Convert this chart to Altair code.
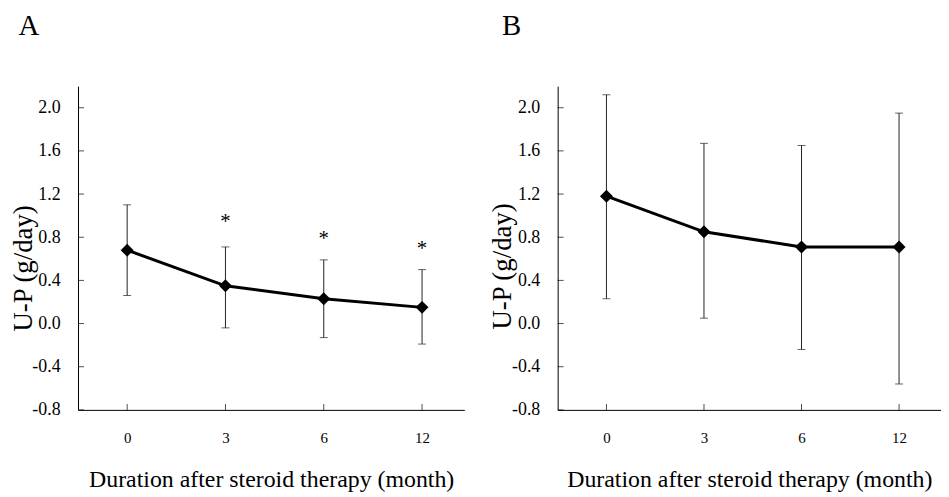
import altair as alt
import pandas as pd

# ---- data ----
months = ["0", "3", "6", "12"]
a_mean = [0.68, 0.35, 0.23, 0.15]
a_upper = [1.10, 0.71, 0.59, 0.50]
a_lower = [0.26, -0.04, -0.13, -0.19]
a_star = [None, 0.98, 0.82, 0.73]
b_mean = [1.18, 0.85, 0.71, 0.71]
b_upper = [2.12, 1.67, 1.65, 1.95]
b_lower = [0.23, 0.05, -0.24, -0.56]
b_star = [None, None, None, None]
y_ticks = [-0.8, -0.4, 0.0, 0.4, 0.8, 1.2, 1.6, 2.0]

FONT = "Liberation Serif"
H = 326
label_expr = "[" + ",".join("'%s'" % m for m in months) + "][datum.value]"
y_label_expr = "(datum.value < 0 ? '-' : '') + format(abs(datum.value), '.1f')"


def panel(letter, mean, upper, lower, star, width, title_dx, ytitle_y):
    df = pd.DataFrame({
        "idx": list(range(len(months))),
        "month": months,
        "mean": mean,
        "upper": upper,
        "lower": lower,
        "star": star,
    })
    ticks = pd.DataFrame({"v": y_ticks})

    x = alt.X(
        "idx:Q",
        scale=alt.Scale(domain=[-0.5, 3.43], nice=False, zero=False),
        axis=alt.Axis(
            values=list(range(len(months))), labelExpr=label_expr, ticks=False,
            grid=False, labelPadding=21, labelFontSize=15, labelFlush=False,
            title="Duration after steroid therapy (month)", titleFontSize=24,
            titleFontWeight="normal", titleBaseline="alphabetic", titleY=77,
        ),
    )
    y = alt.Y(
        "mean:Q",
        scale=alt.Scale(domain=[-0.8, 2.2], nice=False, zero=False),
        axis=alt.Axis(
            values=y_ticks, labelExpr=y_label_expr, ticks=False, grid=False,
            labelPadding=18, labelFontSize=18, labelFlush=False,
            title="U-P (g/day)", titleFontSize=27, titleFontWeight="normal",
            titleAngle=270, titleBaseline="alphabetic", titleAlign="center",
            titleX=-47, titleY=ytitle_y,
        ),
    )

    base = alt.Chart(df).encode(x=x)
    rule = base.mark_rule(color="#222", strokeWidth=1).encode(
        y=alt.Y("lower:Q"), y2="upper:Q")
    capu = base.mark_tick(color="#222", thickness=1, size=8,
                          orient="horizontal").encode(y="upper:Q")
    capl = base.mark_tick(color="#222", thickness=1, size=8,
                          orient="horizontal").encode(y="lower:Q")
    line = base.mark_line(color="black", strokeWidth=3).encode(y=y)
    pts = base.mark_point(shape="diamond", filled=True, size=170,
                          color="black", opacity=1).encode(y="mean:Q")
    stars = base.transform_filter("isValid(datum.star)").mark_text(
        text="*", fontSize=21, font=FONT, color="black", dy=4,
        baseline="middle").encode(y="star:Q")
    yt = alt.Chart(ticks).mark_tick(color="black", thickness=1, size=6,
                                    orient="horizontal").encode(
        y="v:Q", x=alt.value(3))
    xt = base.mark_tick(color="black", thickness=1, size=6,
                        orient="vertical").encode(y=alt.value(H - 3))

    return alt.layer(rule, capu, capl, line, pts, stars, yt, xt).properties(
        width=width, height=H,
        title=alt.TitleParams(letter, anchor="start", frame="group",
                              dx=title_dx, fontSize=29, font=FONT,
                              fontWeight="normal", baseline="alphabetic",
                              offset=23, color="black"),
    )


pa = panel("A", a_mean, a_upper, a_lower, a_star, 389, -60, 183)
pb = panel("B", b_mean, b_upper, b_lower, b_star, 386, -56, 181)

chart = alt.hconcat(pa, pb, spacing=25).properties(
    padding={"left": 1.5, "top": 2, "right": 0, "bottom": 0}
).configure_view(stroke=None).configure_axis(
    domainColor="black", domainWidth=1, labelFont=FONT, titleFont=FONT,
    labelColor="black", titleColor="black",
)

chart.save("out.html", embed_options={"renderer": "svg", "actions": False})
